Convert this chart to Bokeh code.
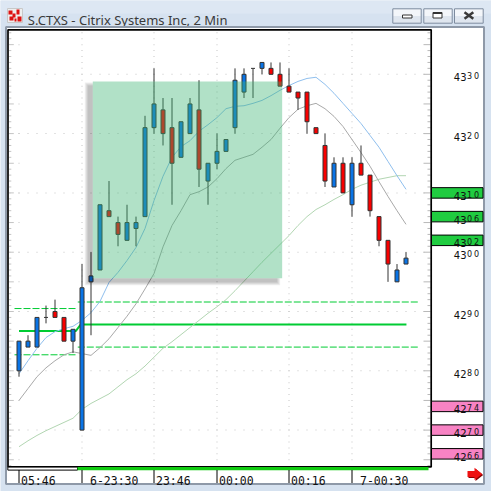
import numpy as np
from bokeh.plotting import figure
from bokeh.models import Range1d
from bokeh.core.properties import value
from bokeh.embed import file_html
from bokeh.resources import INLINE

# ---------------- data ----------------
TITLE = "S.CTXS - Citrix Systems Inc, 2 Min"

OPEN = [4280, 4284, 4284, 4289, 4290, 4289, 4285, 4270, 4295, 4297,
        4307, 4305, 4302, 4304, 4306, 4321, 4324, 4321, 4316, 4320,
        4324, 4312, 4315, 4317, 4321, 4327, 4331, 4331, 4331, 4330,
        4328, 4327, 4327, 4321, 4318, 4311, 4315, 4308, 4315, 4313,
        4306, 4302, 4295, 4298]
HIGH = [4285, 4286, 4289, 4291, 4292, 4289, 4287, 4298, 4300, 4308,
        4312, 4306, 4308, 4306, 4323, 4331, 4326, 4326, 4322, 4326,
        4329, 4315, 4320, 4319, 4331, 4331, 4331, 4332, 4332, 4332,
        4331, 4327, 4327, 4321, 4320, 4316, 4316, 4316, 4318, 4313,
        4306, 4302, 4298, 4300]
LOW = [4279, 4284, 4284, 4288, 4289, 4285, 4283, 4270, 4286, 4297,
       4306, 4301, 4302, 4301, 4306, 4320, 4318, 4308, 4316, 4320,
       4311, 4308, 4314, 4317, 4320, 4326, 4326, 4330, 4330, 4328,
       4327, 4324, 4320, 4320, 4311, 4311, 4310, 4306, 4313, 4306,
       4301, 4295, 4295, 4298]
CLOSE = [4285, 4285, 4289, 4289, 4289, 4285, 4287, 4294, 4296, 4308,
         4306, 4303, 4305, 4305, 4321, 4325, 4320, 4315, 4322, 4325,
         4314, 4315, 4317, 4319, 4329, 4330, 4331, 4332, 4330, 4328,
         4327, 4326, 4322, 4320, 4312, 4315, 4310, 4315, 4313, 4307,
         4302, 4298, 4297, 4299]

MA_FAST = [4279.5, 4281.7, 4283.8, 4285.6, 4286.6, 4287.1, 4287.5, 4288.5, 4289.8, 4291.7,
           4294.9, 4296.6, 4298.6, 4300.8, 4304.0, 4308.7, 4312.8, 4316.0, 4317.8, 4318.8,
           4320.4, 4321.5, 4322.7, 4324.2, 4324.6, 4324.7, 4325.1, 4325.6, 4326.4, 4327.3,
           4328.1, 4328.8, 4329.3, 4329.5, 4328.3, 4326.8, 4325.1, 4323.4, 4321.7, 4319.7,
           4317.7, 4315.3, 4312.9, 4310.6]
MA_MID = [4275.0, 4277.0, 4279.0, 4280.5, 4281.7, 4282.7, 4283.2, 4282.9, 4282.6, 4283.9,
          4285.4, 4287.3, 4289.2, 4291.3, 4293.8, 4296.4, 4300.9, 4304.5, 4307.0, 4309.7,
          4310.2, 4311.0, 4312.4, 4314.1, 4315.5, 4316.0, 4316.5, 4317.7, 4319.0, 4320.9,
          4322.7, 4324.1, 4324.7, 4325.1, 4324.2, 4322.9, 4321.2, 4319.0, 4316.8, 4314.5,
          4311.9, 4309.4, 4307.0, 4304.7]
MA_SLOW = [4267.2, 4268.2, 4269.1, 4269.9, 4270.6, 4271.3, 4272.0, 4273.5, 4274.5, 4275.3,
           4276.1, 4277.3, 4278.5, 4279.5, 4280.8, 4282.3, 4283.8, 4284.9, 4286.1, 4287.3,
           4288.5, 4289.7, 4290.8, 4292.0, 4293.5, 4295.1, 4296.7, 4298.3, 4299.8, 4301.3,
           4302.8, 4304.5, 4306.0, 4307.2, 4308.0, 4308.9, 4309.7, 4310.6, 4311.3, 4311.8,
           4312.3, 4312.6, 4312.9, 4312.9]

TIME_TICK_BARS = [0, 7, 15, 22, 30, 37]
TIME_TICK_LABELS = ["05:46", "6-23:30", "23:46", "00:00", "00:16", "7-00:30"]
SESSION_START = 7          # first bar of the current session

PRICE_TICKS = [4270, 4280, 4290, 4300, 4310, 4320, 4330]
GREEN_MARKS = [4310, 4306, 4302]
PINK_MARKS = [4274, 4270, 4266]

# session levels: [previous session, current session]
LEVEL_UPPER = [4290.5, 4291.6]
LEVEL_MID = [4286.7, 4287.8]
LEVEL_LOWER = [4282.7, 4284.0]

# highlighted zone (bar index / price)
ZONE_LEFT, ZONE_RIGHT = 8.2, 29.24
ZONE_BOTTOM, ZONE_TOP = 4295.6, 4328.8

# ---------------- geometry & styles ----------------
W = H = 491
BAR_PX = 9.0
BAR0_PX = 18.5
UNIT_PX = 5.93
REF_PRICE = 4300
REF_PX = 251.7

BG = "#d6e2f0"
UP_COLOR = "#0a74e6"
DOWN_COLOR = "#f80000"
EDGE = "#333333"
LEVEL_GREEN = "#00cc33"

p = figure(width=W, height=H, output_backend="svg", toolbar_location=None,
           x_range=Range1d(-BAR0_PX / BAR_PX, (W - BAR0_PX) / BAR_PX),
           y_range=Range1d(REF_PRICE - (H - REF_PX) / UNIT_PX,
                           REF_PRICE + REF_PX / UNIT_PX),
           x_axis_type=None, y_axis_type=None, min_border=0)
p.title.visible = False
p.outline_line_color = None
p.background_fill_color = BG
p.border_fill_color = BG
p.extra_x_ranges = {"px": Range1d(0, W)}
p.extra_y_ranges = {"py": Range1d(H, 0)}
PX = dict(x_range_name="px", y_range_name="py")

# ---------------- window chrome ----------------
p.quad(left=0, right=W, top=0, bottom=13, fill_color="#dde7f3", line_color=None, **PX)

# app icon
p.quad(left=7, right=22, top=8, bottom=22, fill_color="#eeeeee", line_color="#c8c8c8", **PX)
p.quad(left=[8, 12, 9, 16, 17, 14], right=[12, 15, 13, 19, 21, 16],
       top=[10, 13, 16, 9, 16, 18], bottom=[14, 17, 20, 14, 21, 21],
       fill_color="#dd1111", line_color=None, **PX)

p.text(x=[27.3], y=[19.3], text=[TITLE], text_font=value("Noto Sans"),
       text_font_size="13px", text_color="#3a3a3a", text_baseline="alphabetic", **PX)

# caption buttons
for bl, br in [(392.3, 420.7), (423.3, 451.7), (454.0, 482.7)]:
    p.quad(left=bl, right=br, top=8.3, bottom=15.5, fill_color="#f3f6fa", line_color=None, **PX)
    p.quad(left=bl, right=br, top=15.5, bottom=22.7, fill_color="#dfe6ef", line_color=None, **PX)
    p.quad(left=bl, right=br, top=8.3, bottom=22.7, fill_color=None,
           line_color="#7d8b9e", line_width=1, **PX)
p.quad(left=402, right=411.5, top=14.5, bottom=17.5, fill_color="white", line_color=EDGE, **PX)
p.quad(left=432.5, right=441.5, top=12, bottom=17.5, fill_color="white", line_color=EDGE, **PX)
p.quad(left=432.5, right=441.5, top=12, bottom=13.6, fill_color=EDGE, line_color=None, **PX)
p.segment(x0=[464, 464], y0=[11.8, 18.2], x1=[472.8, 472.8], y1=[18.2, 11.8],
          line_color="#3a3a3a", line_width=2.6, **PX)

# chart panel
p.quad(left=5.5, right=483.5, top=26.5, bottom=483.5, fill_color="white",
       line_color="#8e99a8", line_width=2, **PX)

# ---------------- grid ----------------
GRID = "#c6c6c6"
bars_all = np.arange(-1, 46)
gx, gy = [], []
for pr in PRICE_TICKS:
    gx += list(bars_all)
    gy += [pr] * len(bars_all)
for t in TIME_TICK_BARS:
    step = 5 if t == 0 else 1
    for pr in range(4265, 4338):
        if pr % step == 0:
            gx.append(t)
            gy.append(pr)
p.rect(x=gx, y=gy, width=1, height=1, width_units="screen", height_units="screen",
       fill_color=GRID, line_color=None)

# small ticks along the inner left and right edges
unit_prices = np.arange(4264, 4338)
major = unit_prices % 5 == 0
p.segment(x0=[8.3] * len(unit_prices), y0=unit_prices,
          x1=np.where(major, 13.3, 10.8), y1=unit_prices,
          line_color="#c4c4c4", line_width=1, x_range_name="px")
p.segment(x0=np.where(major, 423.0, 427.0), y0=unit_prices,
          x1=[430.0] * len(unit_prices), y1=unit_prices,
          line_color="#b8b8b8", line_width=1, x_range_name="px")

# ---------------- session levels ----------------
split = SESSION_START - 0.5
for lv in (LEVEL_UPPER, LEVEL_LOWER):
    p.segment(x0=[-0.5, split + 0.03], y0=lv, x1=[split - 0.1, 44.4], y1=lv,
              line_color=LEVEL_GREEN, line_width=1, line_dash="7 2")
p.line(x=[0, split - 0.2, split + 0.35, 43.05],
       y=[LEVEL_MID[0], LEVEL_MID[0], LEVEL_MID[1], LEVEL_MID[1]],
       line_color=LEVEL_GREEN, line_width=2)

# ---------------- moving averages ----------------
idx = np.arange(len(OPEN))
p.line(x=idx, y=MA_SLOW, line_color="#b2d6b2", line_width=1)
p.line(x=idx, y=MA_MID, line_color="#a9a9a9", line_width=1)
p.line(x=idx, y=MA_FAST, line_color="#8fbfee", line_width=1)

# ---------------- candles ----------------
o, hi, lo, c = (np.array(a, dtype=float) for a in (OPEN, HIGH, LOW, CLOSE))
hw = 2.0 / BAR_PX
p.segment(x0=idx, y0=lo, x1=idx, y1=hi, line_color=EDGE, line_width=1)
body = c != o
p.quad(left=idx[body] - hw, right=idx[body] + hw,
       top=np.maximum(o, c)[body], bottom=np.minimum(o, c)[body],
       fill_color=[UP_COLOR if cc > oo else DOWN_COLOR for oo, cc in zip(o[body], c[body])],
       line_color=EDGE, line_width=1)
flat = ~body
p.segment(x0=idx[flat] - hw, y0=c[flat], x1=idx[flat] + hw, y1=c[flat],
          line_color=EDGE, line_width=1)

# ---------------- highlighted zone with soft shadow ----------------
dxp = 1.0 / BAR_PX
dyp = 1.0 / UNIT_PX
sh_dx, sh_dy = 5.0, 4.0
for e in (3, 2, 1, 0):
    s_left = ZONE_LEFT - (sh_dx + e) * dxp
    s_right = ZONE_RIGHT - (sh_dx - e) * dxp
    s_top = ZONE_TOP - (sh_dy - e) * dyp
    s_bottom = ZONE_BOTTOM - (sh_dy + e) * dyp
    p.quad(left=[s_left, ZONE_LEFT], right=[ZONE_LEFT, s_right],
           top=[s_top, ZONE_BOTTOM], bottom=[s_bottom, s_bottom],
           fill_color="black", fill_alpha=0.065, line_color=None)
p.quad(left=ZONE_LEFT, right=ZONE_RIGHT, top=ZONE_TOP, bottom=ZONE_BOTTOM,
       fill_color="#3cb473", fill_alpha=0.4, line_color=None)

# plot frame
p.quad(left=7.5, right=430.7, top=29.3, bottom=466.4, fill_color=None,
       line_color="black", line_width=1.7, **PX)

# ---------------- price scale ----------------
LABEL_FONT = value("DejaVu Sans")


def price_text(prices):
    # leading digits at normal size, last two digits raised and smaller
    p.text(x=[453.3] * len(prices), y=prices, text=[str(v)[:2] for v in prices],
           text_font=LABEL_FONT, text_font_size="10px", text_color="#111111",
           text_align="left", text_baseline="alphabetic", y_offset=3.0,
           x_range_name="px")
    for k, sx in enumerate((466.5, 473.6)):
        p.text(x=[sx] * len(prices), y=prices, text=[str(v)[2 + k] for v in prices],
               text_font=LABEL_FONT, text_font_size="8px", text_color="#111111",
               text_align="left", text_baseline="alphabetic", y_offset=1.5,
               x_range_name="px")


price_text(PRICE_TICKS)
p.rect(x=[456.75] * len(GREEN_MARKS), y=GREEN_MARKS, width=51.5, height=10.5,
       height_units="screen", fill_color="#20cc40", line_color="black",
       line_width=1, x_range_name="px")
p.rect(x=[456.75] * len(PINK_MARKS), y=PINK_MARKS, width=51.5, height=10.5,
       height_units="screen", fill_color="#f883c4", line_color="black",
       line_width=1, x_range_name="px")
price_text(GREEN_MARKS)
price_text(PINK_MARKS)

# ---------------- time scale ----------------
p.quad(left=-1.24, right=split, top=466.6, bottom=469.6, fill_color="white",
       line_color="black", line_width=1, y_range_name="py")
p.quad(left=split, right=45.5, top=466.6, bottom=469.8, fill_color="#11cc11",
       line_color=None, y_range_name="py")
p.segment(x0=TIME_TICK_BARS, y0=[469.5] * len(TIME_TICK_BARS),
          x1=TIME_TICK_BARS, y1=[482.5] * len(TIME_TICK_BARS),
          line_color="black", line_width=1, y_range_name="py")
p.text(x=TIME_TICK_BARS, y=[480.3] * len(TIME_TICK_BARS), text=TIME_TICK_LABELS,
       x_offset=[2 if len(s) == 5 else 8 for s in TIME_TICK_LABELS],
       text_font=value("DejaVu Sans Mono"), text_font_size="11.5px",
       text_color="#111111", text_baseline="alphabetic", y_range_name="py")

# scroll arrow
arrow_x = [467, 474, 474, 481.7, 474, 474, 467]
arrow_y = [470.6, 470.6, 467.3, 473.4, 479.5, 476.4, 476.4]
p.patch(x=[v + 1 for v in arrow_x], y=[v + 1 for v in arrow_y],
        fill_color="#8a0000", line_color=None, **PX)
p.patch(x=arrow_x, y=arrow_y, fill_color="#ee1111", line_color=None, **PX)

open("out.html", "w").write(file_html(p, INLINE))
